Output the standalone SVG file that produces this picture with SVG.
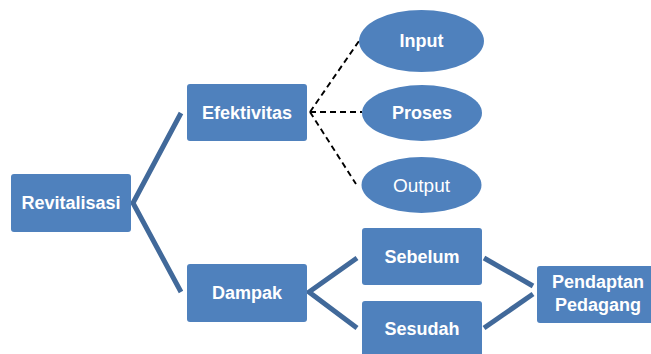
<svg xmlns="http://www.w3.org/2000/svg" width="651" height="354" viewBox="0 0 651 354">
<style>
.box{fill:#4F81BD;}
.lbl{font-family:"Liberation Sans",Arial,sans-serif;font-size:18px;font-weight:bold;fill:#FFFFFF;text-anchor:middle;}
.reg{font-weight:normal;font-size:19px;}
.solid{fill:none;stroke:#41699A;stroke-width:5;stroke-linejoin:miter;}
.dash{fill:none;stroke:#000000;stroke-width:1.9;stroke-dasharray:6,4;}
</style>
<rect width="651" height="354" fill="#FFFFFF"/>
<g id="connectors">
<polyline class="solid" points="181,113 133,203 181,292"/>
<polyline class="solid" points="357,258 309,292 357,328"/>
<line class="solid" x1="484" y1="258" x2="533" y2="286"/>
<line class="solid" x1="484" y1="328" x2="533" y2="294"/>
<line class="dash" x1="310" y1="112" x2="359" y2="41"/>
<line class="dash" x1="310" y1="112" x2="362" y2="112"/>
<line class="dash" x1="310" y1="112" x2="356" y2="184"/>
</g>
<g id="revitalisasi">
<rect class="box" x="11" y="174" width="120" height="58" rx="3"/>
<text class="lbl" x="71" y="209">Revitalisasi</text>
</g>
<g id="efektivitas">
<rect class="box" x="187" y="84" width="120" height="57" rx="3"/>
<text class="lbl" x="247" y="119">Efektivitas</text>
</g>
<g id="dampak">
<rect class="box" x="187" y="264" width="120" height="58" rx="3"/>
<text class="lbl" x="247" y="299">Dampak</text>
</g>
<g id="input">
<ellipse class="box" cx="421.5" cy="41" rx="62.5" ry="31"/>
<text class="lbl" x="421.5" y="47">Input</text>
</g>
<g id="proses">
<ellipse class="box" cx="422" cy="113" rx="60" ry="28"/>
<text class="lbl" x="422" y="119">Proses</text>
</g>
<g id="output">
<ellipse class="box" cx="421.5" cy="185" rx="60" ry="28"/>
<text class="lbl reg" x="421.5" y="192">Output</text>
</g>
<g id="sebelum">
<rect class="box" x="362" y="228" width="120" height="57" rx="3"/>
<text class="lbl" x="422" y="263">Sebelum</text>
</g>
<g id="sesudah">
<rect class="box" x="362" y="301" width="120" height="57" rx="3"/>
<text class="lbl" x="422" y="335">Sesudah</text>
</g>
<g id="pendaptan">
<rect class="box" x="537" y="266" width="120" height="57" rx="3"/>
<text class="lbl" x="598" y="288">Pendaptan</text>
<text class="lbl" x="598" y="311">Pedagang</text>
</g>
</svg>
